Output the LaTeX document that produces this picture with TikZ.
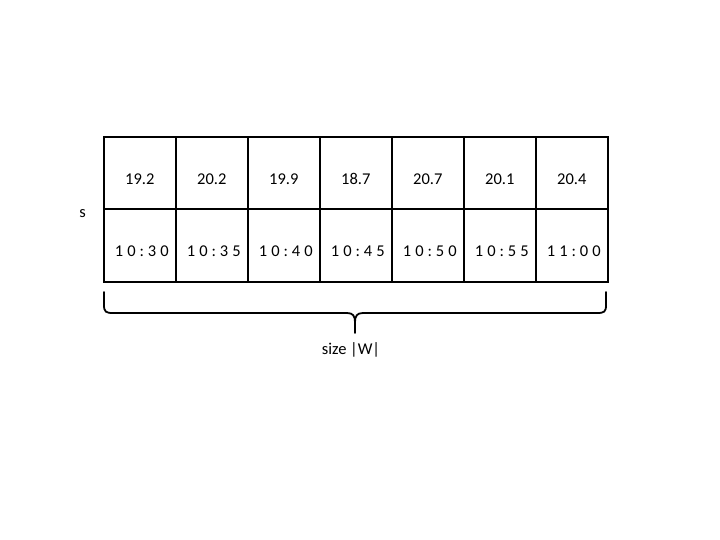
\documentclass[tikz,border=0pt]{standalone}
\usepackage{fontspec}
\setmainfont{Carlito}
\newfontfamily\timefont[LetterSpace=24]{Carlito}
\begin{document}
\begin{tikzpicture}[x=1pt,y=-1pt,
  cellbox/.style={draw=black,line width=1.6pt,minimum width=72pt,minimum height=72.5pt,inner sep=0pt,anchor=north west,text height=24pt,text depth=1pt,font=\fontsize{16.5}{19}\selectfont},
  timebox/.style={cellbox,text height=23pt,font=\fontsize{16.5}{19}\selectfont\timefont},
  lbl/.style={font=\fontsize{16.5}{19}\selectfont,inner sep=0pt}]
\useasboundingbox (0,0) rectangle (720,540);
\node[cellbox] (v0) at (103,136) {19.2};
\node[cellbox] (v1) at (175,136) {20.2};
\node[cellbox] (v2) at (247,136) {19.9};
\node[cellbox] (v3) at (319,136) {18.7};
\node[cellbox] (v4) at (391,136) {20.7};
\node[cellbox] (v5) at (463,136) {20.1};
\node[cellbox] (v6) at (535,136) {20.4};
\node[timebox] (t0) at (103,208.5) {\hspace{4pt}10:30};
\node[timebox] (t1) at (175,208.5) {\hspace{4pt}10:35};
\node[timebox] (t2) at (247,208.5) {\hspace{4pt}10:40};
\node[timebox] (t3) at (319,208.5) {\hspace{4pt}10:45};
\node[timebox] (t4) at (391,208.5) {\hspace{4pt}10:50};
\node[timebox] (t5) at (463,208.5) {\hspace{4pt}10:55};
\node[timebox] (t6) at (535,208.5) {\hspace{4pt}11:00};
\node[lbl] (s) at (82.5,214) {s};
\coordinate (bl) at (104,292);
\coordinate (br) at (606,292);
\coordinate (bt) at (355,333);
\draw[line width=1.8pt,line cap=round]
  (bl) -- (104,305) .. controls (104,312) and (106,313) .. (113,313)
  -- (347,313) .. controls (353,313) and (355,316) .. (355,322) -- (bt);
\draw[line width=1.8pt,line cap=round]
  (br) -- (606,305) .. controls (606,312) and (604,313) .. (597,313)
  -- (363,313) .. controls (357,313) and (355,316) .. (355,322);
\node[lbl] (size) at (351,350) {size |W|};
\end{tikzpicture}
\end{document}
